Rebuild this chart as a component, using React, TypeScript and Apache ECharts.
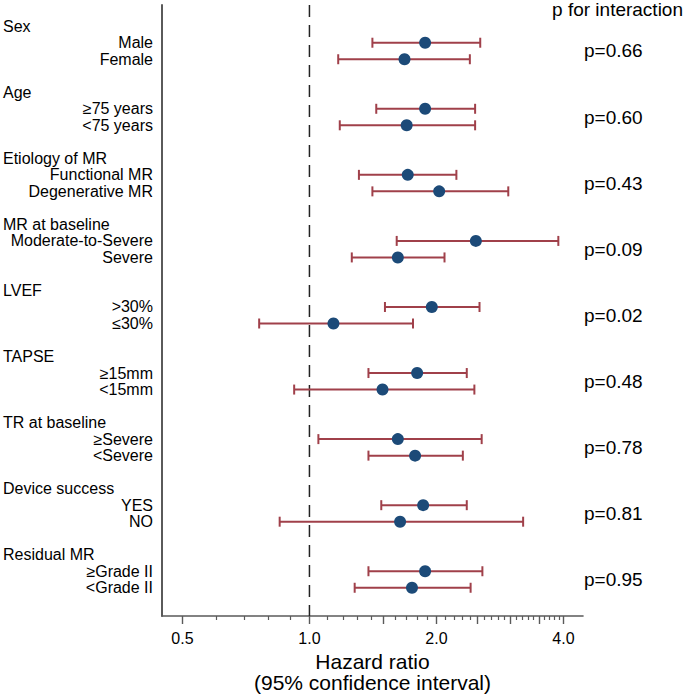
import React, { useEffect, useRef } from "react";
import * as echarts from "echarts";

const groups = ["Sex", "Age", "Etiology of MR", "MR at baseline", "LVEF", "TAPSE", "TR at baseline", "Device success", "Residual MR"];
const subgroups = [
  "Male", "Female",
  "≥75 years", "<75 years",
  "Functional MR", "Degenerative MR",
  "Moderate-to-Severe", "Severe",
  ">30%", "≤30%",
  "≥15mm", "<15mm",
  "≥Severe", "<Severe",
  "YES", "NO",
  "≥Grade II", "<Grade II",
];
const hazardRatio = [1.88, 1.68, 1.88, 1.70, 1.71, 2.03, 2.48, 1.62, 1.95, 1.14, 1.80, 1.49, 1.62, 1.78, 1.86, 1.64, 1.88, 1.75];
const lowerCI = [1.41, 1.17, 1.44, 1.18, 1.31, 1.41, 1.61, 1.26, 1.51, 0.76, 1.38, 0.92, 1.05, 1.38, 1.48, 0.85, 1.38, 1.28];
const upperCI = [2.54, 2.40, 2.47, 2.47, 2.23, 2.96, 3.89, 2.09, 2.53, 1.76, 2.36, 2.46, 2.56, 2.31, 2.36, 3.21, 2.57, 2.41];
const pInteraction = ["p=0.66", "p=0.60", "p=0.43", "p=0.09", "p=0.02", "p=0.48", "p=0.78", "p=0.81", "p=0.95"];
const referenceHR = 1.0;
const xTickLabels = [0.5, 1.0, 2.0, 4.0];
const majorTicks = [0.5, 1.0, 1.5, 2.0, 2.5, 3.0, 3.5, 4.0];
const minorTicks = [0.6, 0.7, 0.8, 0.9, 1.1, 1.2, 1.3, 1.4, 1.6, 1.7, 1.8, 1.9, 2.1, 2.2, 2.3, 2.4, 2.6, 2.7, 2.8, 2.9, 3.1, 3.2, 3.3, 3.4, 3.6, 3.7, 3.8, 3.9];

const FONT = "'Liberation Sans', Arial, Helvetica, sans-serif";
const BAR_COLOR = "#a0404a";
const DOT_COLOR = "#1c4a78";
const AXIS_COLOR = "#5a5a5a";

export default function App() {
  const ref = useRef<HTMLDivElement>(null);

  useEffect(() => {
    if (!ref.current) return;
    const chart = echarts.init(ref.current, undefined, { renderer: "svg" });
    const log2 = (v: number) => Math.log2(v);

    // row layout: group header at 4g, items at 4g+1, 4g+2
    const itemRow = (i: number) => Math.floor(i / 2) * 4 + 1 + (i % 2);
    const headerRows = groups.map((_, g) => g * 4);
    const itemRows = subgroups.map((_, i) => itemRow(i));
    const pRows = pInteraction.map((_, g) => g * 4 + 1.5);

    const labelFor = (rows: number[], names: string[]) => (v: number) => {
      const idx = rows.findIndex((r) => Math.abs(r - v) < 1e-6);
      return idx >= 0 ? names[idx] : "";
    };

    const yMin = -1.284;
    const yMax = 35.71;
    const xMin = -1.161;
    const xMax = 2.154;

    const baseY = {
      type: "value",
      min: yMin,
      max: yMax,
      inverse: true,
      splitLine: { show: false },
      axisTick: { show: false },
    };

    const option: any = {
      animation: false,
      textStyle: { fontFamily: FONT },
      title: {
        text: "p for interaction",
        right: 2,
        top: 0,
        padding: 0,
        textStyle: { fontSize: 19, fontWeight: "normal", color: "#000", fontFamily: FONT },
      },
      grid: { left: 162, right: 102, top: 5, bottom: 80, containLabel: false, outerBoundsMode: "none" },
      xAxis: [
        {
          type: "value",
          min: xMin,
          max: xMax,
          position: "bottom",
          splitLine: { show: false },
          axisLine: { show: true, onZero: false, lineStyle: { color: AXIS_COLOR, width: 1.6 } },
          axisTick: {
            show: true,
            customValues: majorTicks.map(log2),
            length: 8,
            lineStyle: { color: AXIS_COLOR, width: 1.4 },
          },
          axisLabel: {
            customValues: xTickLabels.map(log2),
            formatter: (v: number) => Math.pow(2, v).toFixed(1),
            fontSize: 16,
            color: "#000",
            margin: 14,
            fontFamily: FONT,
          },
          name: "Hazard ratio\n(95% confidence interval)",
          nameLocation: "middle",
          nameGap: 33,
          nameTextStyle: { fontSize: 21, lineHeight: 21, color: "#000", fontFamily: FONT, verticalAlign: "top" },
        },
        {
          type: "value",
          min: xMin,
          max: xMax,
          position: "bottom",
          offset: 0,
          splitLine: { show: false },
          axisLine: { show: false, onZero: false },
          axisLabel: { show: false },
          axisTick: {
            show: true,
            customValues: minorTicks.map(log2),
            length: 4,
            lineStyle: { color: AXIS_COLOR, width: 1.2 },
          },
        },
      ],
      yAxis: [
        {
          ...baseY,
          position: "left",
          axisLine: { show: true, onZero: false, lineStyle: { color: AXIS_COLOR, width: 2 } },
          axisLabel: {
            customValues: itemRows,
            formatter: labelFor(itemRows, subgroups),
            fontSize: 16,
            color: "#000",
            margin: 9,
            align: "right",
            padding: [3, 0, 0, 0],
            fontFamily: FONT,
          },
        },
        {
          ...baseY,
          position: "left",
          offset: 0,
          axisLine: { show: false, onZero: false },
          axisLabel: {
            customValues: headerRows,
            formatter: labelFor(headerRows, groups),
            fontSize: 16,
            color: "#000",
            margin: 159,
            align: "left",
            padding: [3, 0, 0, 0],
            fontFamily: FONT,
          },
        },
        {
          ...baseY,
          position: "right",
          axisLine: { show: false, onZero: false },
          axisLabel: {
            customValues: pRows,
            formatter: labelFor(pRows, pInteraction),
            fontSize: 19,
            color: "#000",
            margin: 1,
            align: "left",
            padding: [3, 0, 0, 0],
            fontFamily: FONT,
          },
        },
      ],
      series: [
        {
          type: "line",
          xAxisIndex: 0,
          yAxisIndex: 0,
          data: [[log2(referenceHR), yMin], [log2(referenceHR), yMax]],
          symbol: "none",
          silent: true,
          lineStyle: { color: "#222", width: 1.5, type: [12, 8] },
          z: 1,
        },
        {
          type: "custom",
          xAxisIndex: 0,
          yAxisIndex: 0,
          encode: { x: [0, 1], y: 2 },
          data: subgroups.map((_, i) => [log2(lowerCI[i]), log2(upperCI[i]), itemRows[i]]),
          renderItem: (params: any, api: any) => {
            const y = api.value(2);
            const p1 = api.coord([api.value(0), y]);
            const p2 = api.coord([api.value(1), y]);
            const h = 5;
            const style = { stroke: BAR_COLOR, lineWidth: 2, fill: null };
            return {
              type: "group",
              children: [
                { type: "line", shape: { x1: p1[0], y1: p1[1], x2: p2[0], y2: p2[1] }, style },
                { type: "line", shape: { x1: p1[0], y1: p1[1] - h, x2: p1[0], y2: p1[1] + h }, style },
                { type: "line", shape: { x1: p2[0], y1: p2[1] - h, x2: p2[0], y2: p2[1] + h }, style },
              ],
            };
          },
          z: 2,
        },
        {
          type: "scatter",
          xAxisIndex: 0,
          yAxisIndex: 0,
          symbol: "circle",
          symbolSize: 12,
          itemStyle: { color: DOT_COLOR, opacity: 1 },
          data: subgroups.map((_, i) => [log2(hazardRatio[i]), itemRows[i]]),
          z: 3,
        },
      ],
    };

    chart.setOption(option);
    return () => chart.dispose();
  }, []);

  return <div ref={ref} style={{ position: "absolute", left: 0, top: 0, width: 685, height: 696 }} />;
}
